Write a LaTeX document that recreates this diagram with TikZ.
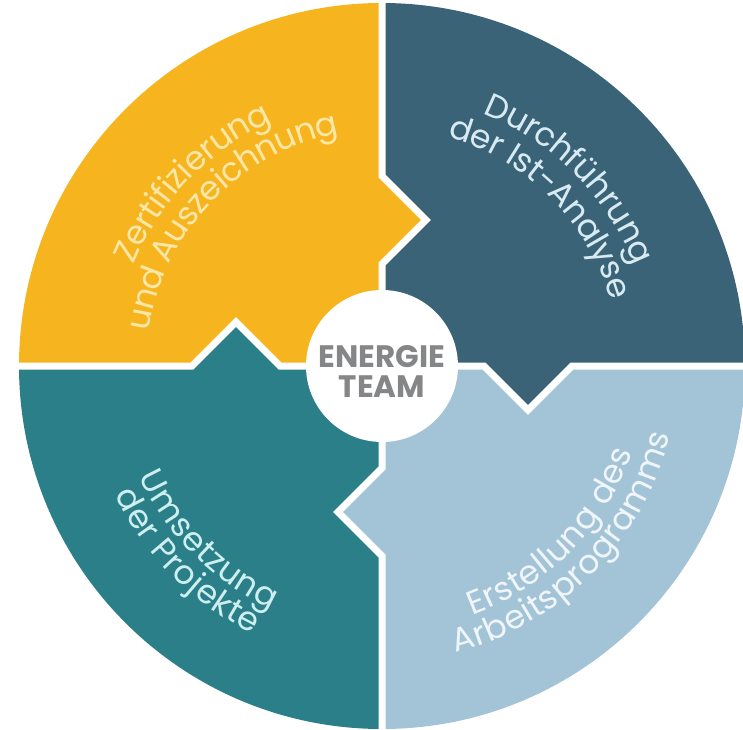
\documentclass[tikz,border=0pt]{standalone}
\usepackage{fontspec}
\setmainfont{Poppins}
\usetikzlibrary{decorations.text}
\definecolor{ybg}{HTML}{F6B51E}
\definecolor{dbg}{HTML}{3B6378}
\definecolor{lbg}{HTML}{A3C3D7}
\definecolor{tbg}{HTML}{2B7F88}
\definecolor{ytx}{HTML}{FCE7A8}
\definecolor{dtx}{HTML}{D8EBF2}
\definecolor{ltx}{HTML}{EFF5F9}
\definecolor{ttx}{HTML}{CDEFF0}
\definecolor{hubtx}{HTML}{858687}
\newcommand\qsize{\fontsize{33}{38}\selectfont}
\begin{document}
\begin{tikzpicture}[x=1pt,y=1pt,
  gapline/.style={white, line width=7pt, line join=miter},
  arctext/.style={decorate, decoration={text along path, text align=center, raise=-9pt, text={#1}}},
  hubtext/.style={text=hubtx, font=\fontsize{31}{31}\selectfont\bfseries, inner sep=0pt, anchor=base}]
\useasboundingbox (-382,-363) rectangle (361,366);
% quadrants
\foreach \c [count=\k from 0] in {ybg,dbg,lbg,tbg}
  \fill[\c, rotate=-90*\k] (0,0) -- (-102,0) -- (-146,44) -- (-190,0) -- (-363,0)
     arc[start angle=180, end angle=90, radius=363] -- (0,190) -- (44,146) -- (0,102) -- cycle;
% white gaps
\foreach \k in {0,...,3}
  \draw[gapline, rotate=-90*\k] (0,0) -- (-102,0) -- (-146,44) -- (-190,0) -- (-372,0);
% hub
\node[circle, fill=white, minimum size=152pt, inner sep=0pt] (hub) at (0,0) {};
\node[hubtext] (hubA) at (0,-1) {ENERGIE};
\node[hubtext] (hubB) at (0,-31) {TEAM};
% yellow
\path[arctext={|\qsize\color{ytx}|Zertifizierung}] (186:277) arc[start angle=186, end angle=86, radius=277];
\path[arctext={|\qsize\color{ytx}|und Auszeichnung}] (186:245) arc[start angle=186, end angle=86, radius=245];
% dark blue
\path[arctext={|\qsize\color{dtx}|Durchführung}] (95:281) arc[start angle=95, end angle=-5, radius=281];
\path[arctext={|\qsize\color{dtx}|der Ist-Analyse}] (95:247) arc[start angle=95, end angle=-5, radius=247];
% teal
\path[arctext={|\qsize\color{ttx}|Umsetzung}] (175:258) arc[start angle=175, end angle=275, radius=258];
\path[arctext={|\qsize\color{ttx}|der Projekte}] (175:288) arc[start angle=175, end angle=275, radius=288];
% light blue
\path[arctext={|\qsize\color{ltx}|Erstellung des}] (265.5:256) arc[start angle=265.5, end angle=365.5, radius=256];
\path[arctext={|\qsize\color{ltx}|Arbeitsprogramms}] (265.5:287) arc[start angle=265.5, end angle=365.5, radius=287];
\end{tikzpicture}
\end{document}
